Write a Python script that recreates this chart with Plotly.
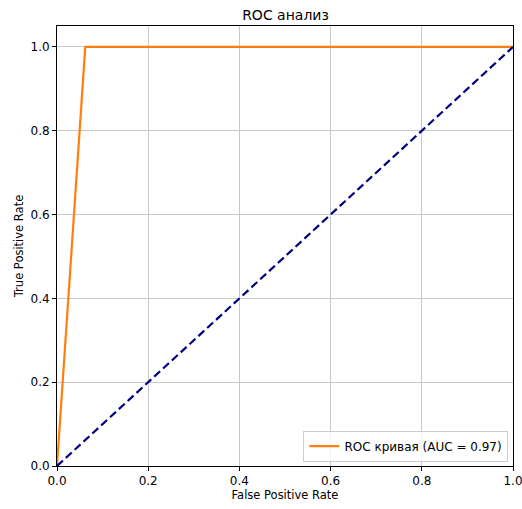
import plotly.graph_objects as go

fpr = [0.0, 0.062, 1.0]
tpr = [0.0, 1.0, 1.0]
diag_x = [0.0, 1.0]
diag_y = [0.0, 1.0]
auc_label = "ROC кривая (AUC = 0.97)"
tick_vals = [0.0, 0.2, 0.4, 0.6, 0.8, 1.0]
tick_text = ["0.0", "0.2", "0.4", "0.6", "0.8", "1.0"]

fig = go.Figure()
fig.add_trace(go.Scatter(x=fpr, y=tpr, mode="lines", name=auc_label,
                         line=dict(color="#ff7f0e", width=2.2)))
fig.add_trace(go.Scatter(x=diag_x, y=diag_y, mode="lines", showlegend=False,
                         line=dict(color="#000080", width=2.2, dash="8px,4px")))

axis_common = dict(showgrid=True, gridcolor="#c8c8c8", gridwidth=1,
                   showline=True, linecolor="black", linewidth=1, mirror=True,
                   ticks="outside", ticklen=4, tickcolor="black",
                   tickfont=dict(family="DejaVu Sans", size=12, color="black"),
                   zeroline=False, tickvals=tick_vals, ticktext=tick_text,
                   automargin=False, ticklabeloverflow="allow")

fig.update_xaxes(range=[0, 1], title=dict(text="False Positive Rate",
                 font=dict(family="DejaVu Sans", size=11.5, color="black"), standoff=0),
                 **axis_common)
fig.update_yaxes(range=[0, 1.05], title=dict(text="True Positive Rate",
                 font=dict(family="DejaVu Sans", size=11.5, color="black"), standoff=4),
                 **axis_common)

fig.update_layout(
    width=522, height=509,
    margin=dict(l=57, r=9, t=26, b=43),
    paper_bgcolor="white", plot_bgcolor="white",
    title=dict(text="ROC анализ", x=0.547, xanchor="center", y=0.97, yanchor="middle",
               font=dict(family="DejaVu Sans", size=14, color="black")),
    legend=dict(x=0.99, y=0.01, xanchor="right", yanchor="bottom",
                bgcolor="rgba(255,255,255,0.8)", bordercolor="#cccccc", borderwidth=1,
                font=dict(family="DejaVu Sans", size=12, color="black")),
    showlegend=True,
)

fig.write_html("out.html")
